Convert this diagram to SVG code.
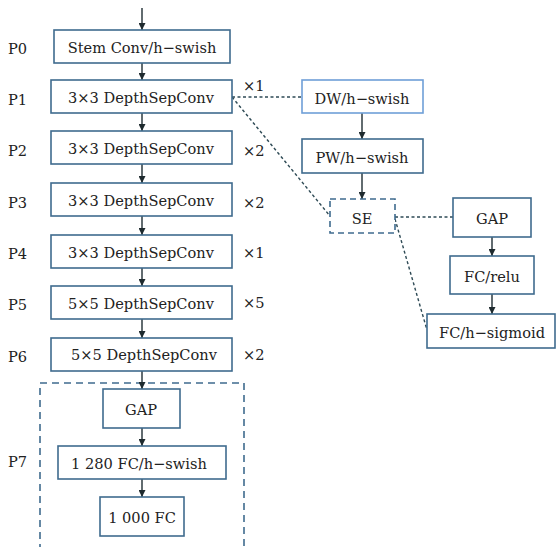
<svg xmlns="http://www.w3.org/2000/svg" width="556" height="547" viewBox="0 0 556 547">
  <style>
    .box { fill: #ffffff; stroke: #3f6b8e; stroke-width: 1.6; }
    .box-light { fill: #ffffff; stroke: #6f9fd8; stroke-width: 1.6; }
    .box-dash { fill: #ffffff; stroke: #3f6b8e; stroke-width: 1.6; stroke-dasharray: 6 4; }
    .group-dash { fill: none; stroke: #3f6b8e; stroke-width: 1.6; stroke-dasharray: 7 5; }
    text { font-family: 'DejaVu Serif', 'Liberation Serif', serif; font-size: 14.6px; fill: #222; dominant-baseline: central; }
    .label { text-anchor: middle; }
    .flow { stroke: #2e3b40; stroke-width: 1.5; fill: none; marker-end: url(#arrow); }
    .link { stroke: #2e4a55; stroke-width: 1.4; fill: none; stroke-dasharray: 3 2.5; }
  </style>
  <defs>
    <marker id="arrow" viewBox="0 0 8 8" refX="8" refY="4" markerWidth="7" markerHeight="7" markerUnits="userSpaceOnUse" orient="auto">
      <path d="M0,0 L8,4 L0,8 z" fill="#1e2a2e"/>
    </marker>
  </defs>

  <rect width="556" height="547" fill="#ffffff"/>

  <!-- stage labels -->
  <g id="stage-labels">
    <text x="8" y="48">P0</text>
    <text x="8" y="99">P1</text>
    <text x="8" y="150">P2</text>
    <text x="8" y="202">P3</text>
    <text x="8" y="253">P4</text>
    <text x="8" y="304">P5</text>
    <text x="8" y="356">P6</text>
    <text x="8" y="461">P7</text>
  </g>

  <!-- repeat counts -->
  <g id="repeat-counts">
    <text x="243" y="85">×1</text>
    <text x="243" y="150">×2</text>
    <text x="243" y="202">×2</text>
    <text x="243" y="252">×1</text>
    <text x="243" y="302">×5</text>
    <text x="243" y="354">×2</text>
  </g>

  <!-- classifier head enclosure -->
  <rect id="p7-group" class="group-dash" x="40" y="383" width="204" height="180"/>

  <!-- connectors -->
  <g id="connectors">
    <line class="flow" x1="142" y1="8" x2="142" y2="30"/>
    <line class="flow" x1="142" y1="63" x2="142" y2="80"/>
    <line class="flow" x1="142" y1="113" x2="142" y2="131"/>
    <line class="flow" x1="142" y1="164" x2="142" y2="183"/>
    <line class="flow" x1="142" y1="216" x2="142" y2="235"/>
    <line class="flow" x1="142" y1="268" x2="142" y2="286"/>
    <line class="flow" x1="142" y1="319" x2="142" y2="338"/>
    <line class="flow" x1="142" y1="371" x2="142" y2="389"/>
    <line class="flow" x1="142" y1="428" x2="142" y2="446"/>
    <line class="flow" x1="142" y1="479" x2="142" y2="497"/>
    <line class="flow" x1="362" y1="113" x2="362" y2="139"/>
    <line class="flow" x1="362" y1="173" x2="362" y2="199"/>
    <line class="flow" x1="492" y1="237" x2="492" y2="256"/>
    <line class="flow" x1="492" y1="294" x2="492" y2="314"/>
    <line class="link" x1="232" y1="97" x2="302" y2="97"/>
    <line class="link" x1="232" y1="97" x2="330" y2="216"/>
    <line class="link" x1="395" y1="217" x2="453" y2="217"/>
    <line class="link" x1="395" y1="219" x2="427" y2="330"/>
  </g>

  <!-- backbone -->
  <g id="p0"><rect class="box" x="54" y="30" width="176" height="33"/><text class="label" x="142" y="47">Stem Conv/h−swish</text></g>
  <g id="p1"><rect class="box" x="51" y="80" width="181" height="33"/><text class="label" x="141" y="97">3×3 DepthSepConv</text></g>
  <g id="p2"><rect class="box" x="51" y="131" width="181" height="33"/><text class="label" x="141" y="148">3×3 DepthSepConv</text></g>
  <g id="p3"><rect class="box" x="51" y="183" width="181" height="33"/><text class="label" x="141" y="200">3×3 DepthSepConv</text></g>
  <g id="p4"><rect class="box" x="51" y="235" width="181" height="33"/><text class="label" x="141" y="252">3×3 DepthSepConv</text></g>
  <g id="p5"><rect class="box" x="51" y="286" width="181" height="33"/><text class="label" x="141" y="303">5×5 DepthSepConv</text></g>
  <g id="p6"><rect class="box" x="51" y="338" width="181" height="33"/><text class="label" x="144" y="354">5×5 DepthSepConv</text></g>

  <!-- classifier head -->
  <g id="head-gap"><rect class="box" x="103" y="389" width="77" height="39"/><text class="label" x="141" y="409">GAP</text></g>
  <g id="head-fc1280"><rect class="box" x="58" y="446" width="168" height="33"/><text class="label" x="139" y="463">1 280 FC/h−swish</text></g>
  <g id="head-fc1000"><rect class="box" x="100" y="497" width="84" height="39"/><text class="label" x="142" y="517">1 000 FC</text></g>

  <!-- depthwise separable block -->
  <g id="dw"><rect class="box-light" x="302" y="80" width="121" height="33"/><text class="label" x="362" y="98">DW/h−swish</text></g>
  <g id="pw"><rect class="box" x="302" y="139" width="121" height="34"/><text class="label" x="362" y="157">PW/h−swish</text></g>
  <g id="se"><rect class="box-dash" x="330" y="199" width="65" height="34"/><text class="label" x="362" y="218">SE</text></g>

  <!-- squeeze-and-excitation -->
  <g id="se-gap"><rect class="box" x="453" y="198" width="78" height="39"/><text class="label" x="492" y="218">GAP</text></g>
  <g id="se-fc-relu"><rect class="box" x="450" y="256" width="84" height="38"/><text class="label" x="492" y="276">FC/relu</text></g>
  <g id="se-fc-hsig"><rect class="box" x="427" y="314" width="128" height="34"/><text class="label" x="492" y="332">FC/h−sigmoid</text></g>
</svg>
